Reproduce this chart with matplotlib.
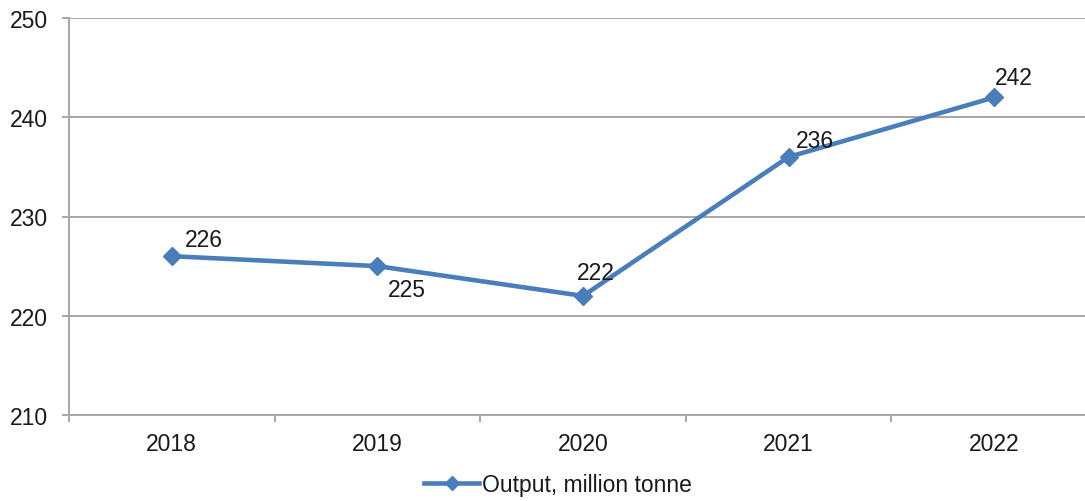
import matplotlib
matplotlib.use("Agg")
import matplotlib.pyplot as plt
from matplotlib.ticker import FixedLocator

plt.rcParams['font.family'] = ['Liberation Sans', 'DejaVu Sans']

years = ["2018", "2019", "2020", "2021", "2022"]
output = [226, 225, 222, 236, 242]
label_offsets = [(23, 12), (21, -17), (9, 17), (19, 12), (14, 14)]
series_name = "Output, million tonne"

line_color = "#4a7ebb"
grid_color = "#a6a6a6"
text_color = "#1a1a1a"
fs = 16.5

fig = plt.figure(figsize=(10.85, 5.02), dpi=100)
ax = fig.add_axes([69 / 1085, 1 - 416 / 502, (1097 - 69) / 1085, (416 - 19) / 502])

x = list(range(len(years)))
ax.plot(x, output, color=line_color, lw=3.3, marker="D", ms=9.5,
        mec=line_color, mfc=line_color, label=series_name, zorder=3)

for xi, v, (dx, dy) in zip(x, output, label_offsets):
    ax.annotate(str(v), (xi, v), xytext=(dx, dy), textcoords="offset points",
                ha="center", va="center", fontsize=fs, color=text_color, zorder=4)

ax.set_ylim(210, 250)
ax.set_yticks([210, 220, 230, 240, 250])
ax.set_xlim(-0.5, len(years) - 0.5)
ax.set_xticks(x)
ax.set_xticklabels(years)
ax.xaxis.set_minor_locator(FixedLocator([i - 0.5 for i in range(len(years) + 1)]))

ax.yaxis.grid(True, color=grid_color, lw=1.4)
ax.set_axisbelow(True)
for s in ["top", "right"]:
    ax.spines[s].set_visible(False)
for s in ["left", "bottom"]:
    ax.spines[s].set_color(grid_color)
    ax.spines[s].set_linewidth(1.4)

ax.tick_params(axis="y", which="major", length=5, width=1.4, color=grid_color,
               labelsize=fs, labelcolor=text_color, pad=10)
ax.tick_params(axis="x", which="major", length=0, labelsize=fs,
               labelcolor=text_color, pad=12)
ax.tick_params(axis="x", which="minor", length=5, width=1.4, color=grid_color)

leg = fig.legend(loc="center", bbox_to_anchor=(558 / 1085, 1 - 486 / 502),
                 frameon=False, fontsize=fs, handlelength=2.4, handletextpad=0.1,
                 labelcolor=text_color, markerscale=0.8)

fig.savefig("out.png", dpi=100)
